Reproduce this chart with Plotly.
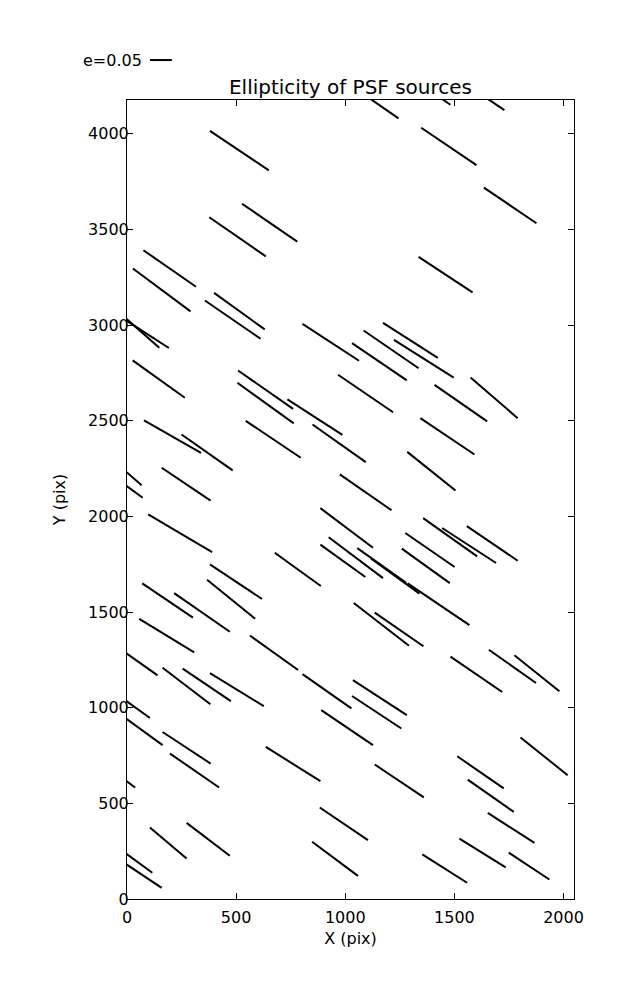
import plotly.graph_objects as go

# Source positions (CCD pixels) and ellipticity vector components (e*cos, e*sin)
src_x = [515, 653.5, 506.5, 195.5, 159, 515, 484.5, 933.5, 54, 76,
         145.5, 635, 635, 861, 1093, 972, 208.5, 367, 670, 271,
         -18, -19, 1093.5, 1298.5, 1210, 1360, 1156.5, 1529.5, 1682, 1468,
         1394.5, 1120.5, 1376, 1614.5, 1474.5, 1755.5, 1459.5, 243.5, 499.5, 477,
         186, 343.5, 182, 782.5, 673.5, 916, 1158.5, 1144, 1006.5, 989,
         1048.5, 1167, 1388, 1369, 1480.5, 1567.5, 1673.5, 1229.5, 1427.5, 1165.5,
         1246.5, 1600.5, 1766, 1878, 25, 272.5, 365.5, 503.5, -7.5, 51.5,
         273, 309.5, -66.5, 761, 1008.5, 993.5, 953, 189, 372, 8,
         39.5, 1247.5, 1619.5, 1666.5, 1911, 1760, 1629, 1842, 1455.5]
src_y = [3911.5, 3535, 3461, 3295.5, 3183, 3072.5, 3028, 2909.5, 2975.5, 2965,
         2717.5, 2662, 2592, 2518.5, 2642, 2381.5, 2416.5, 2334, 2402.5, 2168,
         2247, 2173.5, 2125.5, 2919.5, 2872.5, 2823.5, 2808, 2591.5, 2619.5, 2418,
         2236, 4177.5, 4234, 4211.5, 3933.5, 3625, 3263.5, 1911.5, 1658.5, 1567,
         1560.5, 1498, 1376.5, 1723, 1287, 1085.5, 1052.5, 976, 1939.5, 1767.5,
         1784, 1743.5, 1824, 1741, 1891, 1847.5, 1858.5, 1687.5, 1540.5, 1435.5,
         1409, 1174.5, 1216, 1180, 1261.5, 1113.5, 1119, 1094.5, 1038, 897,
         790.5, 671.5, 669, 705.5, 895.5, 393, 210, 293, 312, 227.5,
         149, 617, 662, 539.5, 745.5, 371.5, 240.5, 172, 159]
e_u = [0.135, 0.1265, 0.1295, 0.1205, 0.132, 0.116, 0.1275, 0.1295, 0.094, 0.116,
       0.1195, 0.126, 0.129, 0.126, 0.126, 0.122, 0.1305, 0.117, 0.126, 0.112,
       0.085, 0.091, 0.1185, 0.1255, 0.126, 0.137, 0.1255, 0.1205, 0.108, 0.124,
       0.1105, 0.1235, 0.106, 0.1145, 0.1265, 0.1205, 0.1235, 0.1465, 0.1195, 0.11,
       0.116, 0.1275, 0.126, 0.1055, 0.1105, 0.112, 0.1235, 0.113, 0.1205, 0.103,
       0.1245, 0.112, 0.113, 0.11, 0.1235, 0.1235, 0.1165, 0.1105, 0.1415, 0.1265,
       0.1115, 0.1185, 0.108, 0.103, 0.115, 0.1095, 0.1105, 0.1235, 0.1125, 0.1115,
       0.11, 0.1125, 0.1035, 0.125, 0.1185, 0.1105, 0.105, 0.084, 0.099, 0.108,
       0.1195, 0.1125, 0.1065, 0.1055, 0.108, 0.107, 0.106, 0.093, 0.1025]
e_v = [-0.1035, -0.099, -0.102, -0.0955, -0.112, -0.0955, -0.1, -0.0965, -0.0945, -0.085,
       -0.0975, -0.1, -0.106, -0.0925, -0.098, -0.0985, -0.0845, -0.094, -0.0965, -0.086,
       -0.085, -0.0765, -0.0935, -0.0915, -0.0985, -0.0985, -0.097, -0.0955, -0.1065, -0.095,
       -0.101, -0.0975, -0.083, -0.0885, -0.0975, -0.093, -0.0925, -0.0985, -0.0905, -0.102,
       -0.0895, -0.101, -0.0875, -0.087, -0.09, -0.0895, -0.0915, -0.085, -0.1035, -0.0845,
       -0.107, -0.0905, -0.089, -0.09, -0.1, -0.0915, -0.0905, -0.0915, -0.1095, -0.1115,
       -0.088, -0.0925, -0.087, -0.094, -0.0925, -0.0955, -0.085, -0.0865, -0.092, -0.093,
       -0.0825, -0.0885, -0.086, -0.0895, -0.0915, -0.085, -0.089, -0.081, -0.086, -0.0905,
       -0.091, -0.086, -0.084, -0.0845, -0.0985, -0.0785, -0.0755, -0.07, -0.074]

x_ticks = [0, 500, 1000, 1500, 2000]
y_ticks = [0, 500, 1000, 1500, 2000, 2500, 3000, 3500, 4000]
X_MAX = 2048
Y_MAX = 4176
SCALE = 2000.0      # pixels of whisker per unit ellipticity
KEY_E = 0.05

# Build whiskers centred on each source
wx, wy = [], []
for x, y, u, v in zip(src_x, src_y, e_u, e_v):
    hx, hy = 0.5 * u * SCALE, 0.5 * v * SCALE
    wx += [x - hx, x + hx, None]
    wy += [y - hy, y + hy, None]

font = dict(family="DejaVu Sans", size=16, color="black")

fig = go.Figure()
fig.add_trace(go.Scatter(x=wx, y=wy, mode="lines",
                         line=dict(color="black", width=2),
                         hoverinfo="skip", showlegend=False))

axis_common = dict(showline=True, linecolor="black", linewidth=1, mirror="allticks",
                   ticks="inside", ticklen=6, tickwidth=1, tickcolor="black",
                   showgrid=False, zeroline=False, tickfont=font)

W, H = 629, 992
fig.update_layout(
    width=W, height=H,
    margin=dict(l=119, r=63, t=92, b=101),
    plot_bgcolor="white", paper_bgcolor="white",
    font=font,
    title=dict(text="Ellipticity of PSF sources", x=0.5, xref="paper",
               y=1 - 79 / H, yref="container", yanchor="middle", xanchor="center",
               font=dict(family="DejaVu Sans", size=20, color="black")),
    xaxis=dict(range=[0, X_MAX], tickvals=x_ticks, ticktext=[str(t) for t in x_ticks],
               ticklabelstandoff=4,
               title=dict(text="X (pix)", font=font, standoff=6), **axis_common),
    yaxis=dict(range=[0, Y_MAX], tickvals=y_ticks, ticktext=[str(t) for t in y_ticks],
               ticklabelstandoff=-6,
               title=dict(text="Y (pix)", font=font, standoff=18), **axis_common),
)

# Key: whisker of e = 0.05
key_x0 = 0.0515
key_x1 = key_x0 + KEY_E * SCALE / X_MAX
key_y = 1.05
fig.add_shape(type="line", xref="paper", yref="paper",
              x0=key_x0, x1=key_x1, y0=key_y, y1=key_y,
              line=dict(color="black", width=2))
fig.add_annotation(text="e=0.05", xref="paper", yref="paper",
                   x=key_x0 - 0.0133, y=key_y, xanchor="right", yanchor="middle",
                   showarrow=False, font=font)

fig.write_html("out.html")
